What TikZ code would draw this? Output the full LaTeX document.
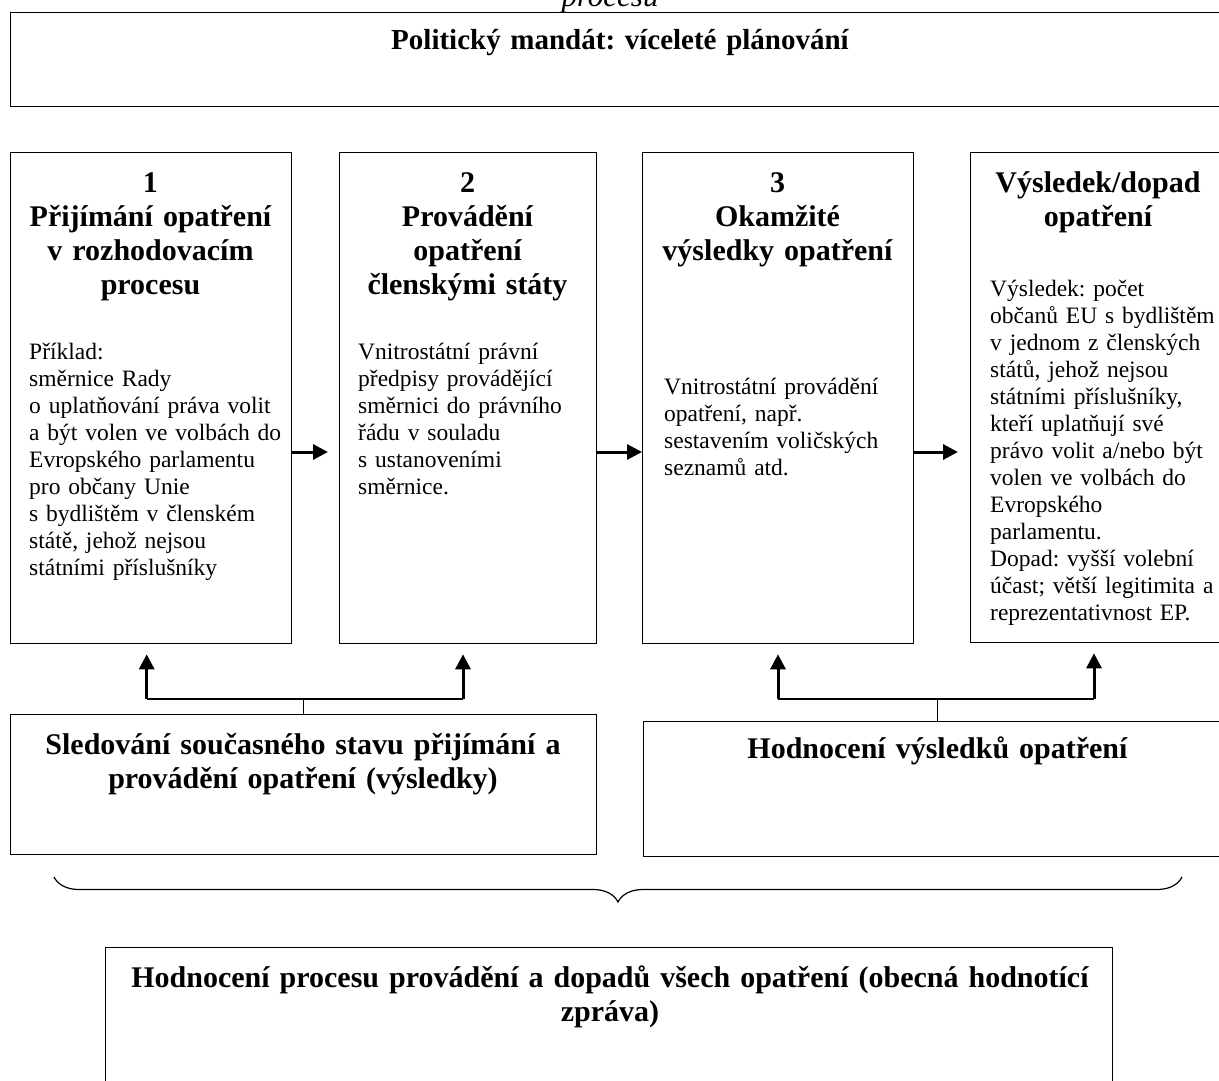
\documentclass[tikz,border=0pt]{standalone}
\usepackage{fontspec}
\setmainfont{Liberation Serif}
\frenchspacing
\usetikzlibrary{arrows.meta,decorations.pathreplacing}
\begin{document}
\frenchspacing
\begin{tikzpicture}[x=1pt,y=-1pt,
  box/.style={draw, line width=1.3pt, inner sep=0pt, anchor=north west},
  ttl/.style={font=\bfseries\fontsize{30}{34.3}\selectfont, text width=500pt, align=center, inner sep=0pt, anchor=base},
  txt/.style={font=\fontsize{23.5}{27}\selectfont, text width=330pt, align=left, inner sep=0pt, anchor=base west},
  harrow/.style={line width=3pt, -{Triangle[length=15pt,width=15pt]}},
  varrow/.style={line width=3pt, -{Triangle[length=15pt,width=15pt]}},
  bus/.style={line width=1.4pt},
  tap/.style={line width=0.9pt},
  bracestyle/.style={decorate, decoration={brace, mirror, amplitude=25pt}, line width=1.2pt}
]
\useasboundingbox (0,0) rectangle (1219,1081);

% cut-off italic text at the top
\node[font=\itshape\fontsize{31}{34}\selectfont, inner sep=0pt, anchor=base] (cut) at (610,7) {procesu};

% top box
\node[box, minimum width=1220, minimum height=94] (top) at (10,12) {};
\node[ttl, font=\bfseries\fontsize{29}{33}\selectfont, text width=800pt] (toptxt) at (620,50) {Politický mandát: víceleté plánování};

% four stage boxes
\node[box, minimum width=281, minimum height=491] (b1) at (10,152) {};
\node[box, minimum width=257, minimum height=491] (b2) at (339,152) {};
\node[box, minimum width=271, minimum height=491] (b3) at (642,152) {};
\node[box, minimum width=258, minimum height=490] (b4) at (970,152) {};

\node[ttl] (b1t) at (150.5,192) {1\\Přijímání opatření\\v rozhodovacím\\procesu};
\node[txt] (b1b) at (29,359) {Příklad:\\směrnice Rady\\o uplatňování práva volit\\a být volen ve volbách do\\Evropského parlamentu\\pro občany Unie\\s bydlištěm v členském\\státě, jehož nejsou\\státními příslušníky};

\node[ttl] (b2t) at (467.5,192) {2\\Provádění\\opatření\\členskými státy};
\node[txt] (b2b) at (358,359) {Vnitrostátní právní\\předpisy provádějící\\směrnici do právního\\řádu v souladu\\s ustanoveními\\směrnice.};

\node[ttl] (b3t) at (777.5,192) {3\\Okamžité\\výsledky opatření};
\node[txt] (b3b) at (664,394) {Vnitrostátní provádění\\opatření, např.\\sestavením voličských\\seznamů atd.};

\node[ttl] (b4t) at (1098,192) {Výsledek/dopad\\opatření};
\node[txt] (b4b) at (990,296) {Výsledek: počet\\občanů EU s bydlištěm\\v jednom z členských\\států, jehož nejsou\\státními příslušníky,\\kteří uplatňují své\\právo volit a/nebo být\\volen ve volbách do\\Evropského\\parlamentu.\\Dopad: vyšší volební\\účast; větší legitimita a\\reprezentativnost EP.};

% horizontal arrows
\coordinate (ay) at (0,452);
\draw[harrow, shorten >=11pt] (b1.east |- ay) -- (b2.west |- ay);
\draw[harrow] (b2.east |- ay) -- (b3.west |- ay);
\draw[harrow, shorten >=12pt] (b3.east |- ay) -- (b4.west |- ay);

% monitoring boxes
\node[box, minimum width=586, minimum height=140] (m1) at (10,714) {};
\node[ttl, text width=700pt] (m1t) at (303,754) {Sledování současného stavu přijímání a\\provádění opatření (výsledky)};
\node[box, minimum width=587, minimum height=135] (m2) at (643,721) {};
\node[ttl, text width=700pt] (m2t) at (937.5,758) {Hodnocení výsledků opatření};

% left feedback arrows
\coordinate (l1) at (146.7,699);
\coordinate (l2) at (463,699);
\draw[bus] (l1) -- (l2);
\draw[varrow, shorten >=10pt] (l1) -- (l1 |- b1.south);
\draw[varrow, shorten >=10pt] (l2) -- (l2 |- b2.south);
\draw[tap] (m1.north |- l1) -- (m1.north);

% right feedback arrows
\coordinate (r1) at (778,699);
\coordinate (r2) at (1094,699);
\draw[bus] (r1) -- (r2);
\draw[varrow, shorten >=10pt] (r1) -- (r1 |- b3.south);
\draw[varrow, shorten >=10pt] (r2) -- (r2 |- b4.south);
\draw[tap] (m2.north |- r1) -- (m2.north);

% brace
\coordinate (br1) at (54,877);
\coordinate (br2) at (1182,877);
\draw[bracestyle] (br1) -- (br2);

% overall evaluation box
\node[box, minimum width=1007, minimum height=160] (g) at (105,947) {};
\node[ttl, text width=1100pt] (gt) at (610,987) {Hodnocení procesu provádění a dopadů všech opatření (obecná hodnotící\\zpráva)};
\end{tikzpicture}
\end{document}
